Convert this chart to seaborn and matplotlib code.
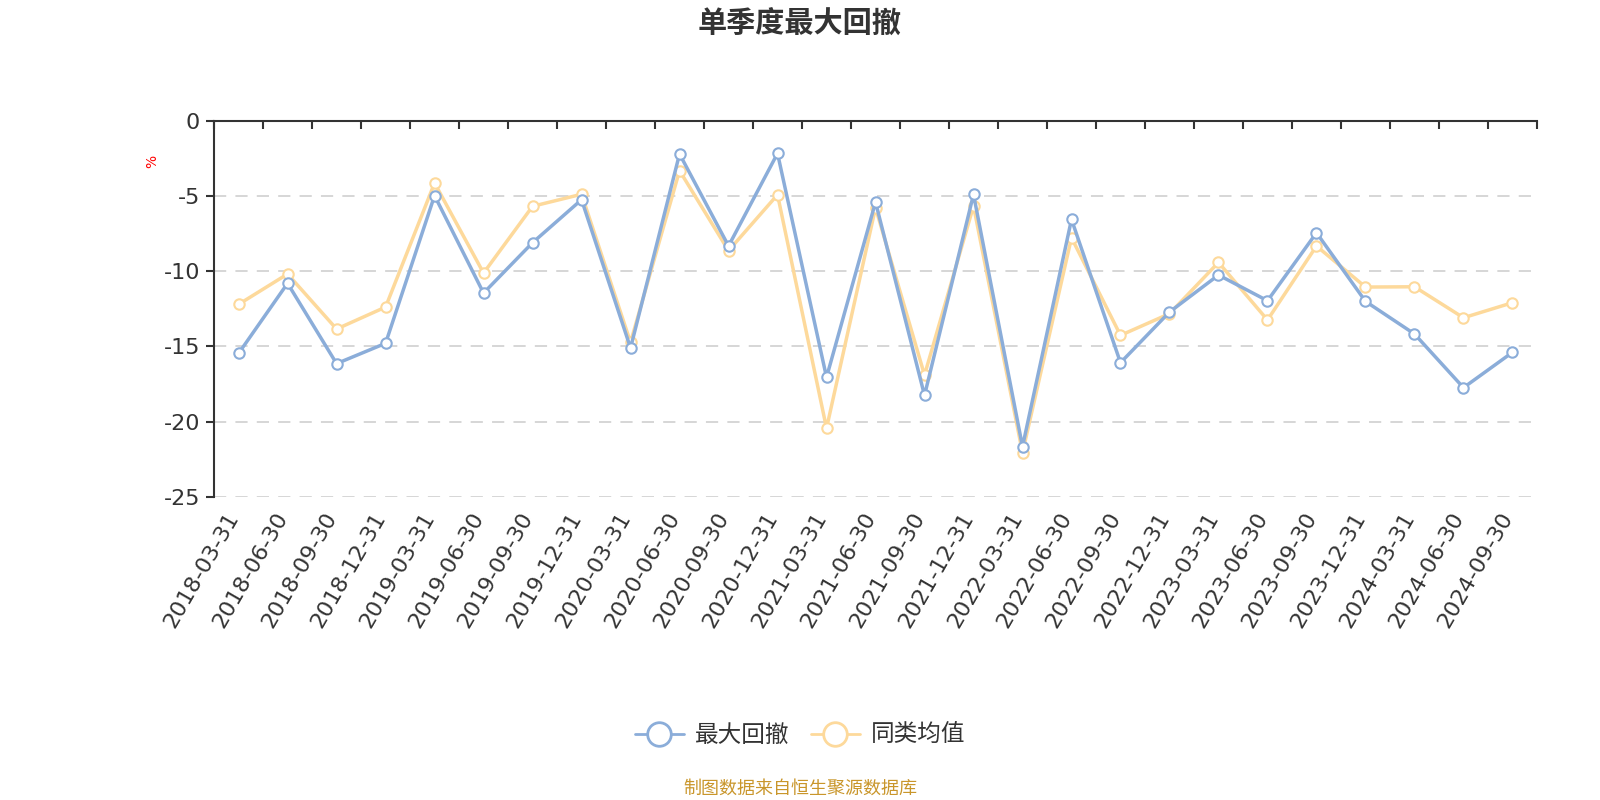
import numpy as np
import matplotlib
matplotlib.use('Agg')
from matplotlib import pyplot as plt
from matplotlib.lines import Line2D
from matplotlib.transforms import ScaledTranslation
import pandas as pd
import seaborn as sns

# quarterly max drawdown, fund vs peer average (%)
quarters = ["2018-03-31", "2018-06-30", "2018-09-30", "2018-12-31",
            "2019-03-31", "2019-06-30", "2019-09-30", "2019-12-31",
            "2020-03-31", "2020-06-30", "2020-09-30", "2020-12-31",
            "2021-03-31", "2021-06-30", "2021-09-30", "2021-12-31",
            "2022-03-31", "2022-06-30", "2022-09-30", "2022-12-31",
            "2023-03-31", "2023-06-30", "2023-09-30", "2023-12-31",
            "2024-03-31", "2024-06-30", "2024-09-30"]
max_drawdown = [-15.47, -10.81, -16.15, -14.80, -4.98, -11.46, -8.11, -5.25,
                -15.11, -2.21, -8.33, -2.17, -17.06, -5.41, -18.26, -4.90,
                -21.67, -6.56, -16.09, -12.72, -10.26, -11.97, -7.45, -12.01,
                -14.18, -17.75, -15.40]
peer_mean = [-12.21, -10.19, -13.85, -12.39, -4.14, -10.13, -5.69, -4.89,
             -14.74, -3.32, -8.64, -4.92, -20.45, -5.78, -16.91, -5.67,
             -22.07, -7.78, -14.27, -12.83, -9.42, -13.25, -8.33, -11.06,
             -11.04, -13.10, -12.10]
series_names = ["最大回撤", "同类均值"]
y_ticks = [0, -5, -10, -15, -20, -25]

blue = "#8badd9"
orange = "#fdd99b"
dark = "#333333"

sns.set_style("white")
plt.rcParams['font.family'] = ['DejaVu Sans', 'Noto Sans CJK SC']
plt.rcParams['axes.unicode_minus'] = False

df = pd.DataFrame({
    "quarter": quarters * 2,
    "value": max_drawdown + peer_mean,
    "series": [series_names[0]] * len(quarters) + [series_names[1]] * len(quarters),
})

fig = plt.figure(figsize=(16, 8), dpi=100)
ax = fig.add_axes([0.1338, 0.3791, 0.9606 - 0.1338, 0.8491 - 0.3791])

sns.lineplot(data=df, x="quarter", y="value", hue="series", sort=False,
             palette=[blue, orange], marker="o", markersize=7.5, linewidth=2.5,
             legend=False, ax=ax, zorder=3)
for line in ax.lines:
    line.set_markerfacecolor("white")
    line.set_markeredgecolor(line.get_color())
    line.set_markeredgewidth(1.5)
# blue drawn on top like the reference
ax.lines[0].set_zorder(4)

n = len(quarters)
ax.set_xlim(-0.5, n - 0.5)
ax.set_ylim(-25, 0)
ax.set_yticks(y_ticks)
ax.set_xlabel("")
ax.set_ylabel("")

ax.set_xticks(np.arange(n))
ax.set_xticks(np.arange(n + 1) - 0.5, minor=True)
ax.set_xticklabels(quarters, rotation=60, ha="right", va="center",
                   rotation_mode="anchor")
ax.tick_params(axis="x", which="major", bottom=False, top=False,
               labelbottom=True, labelsize=16, labelcolor=dark, pad=9)
ax.tick_params(axis="x", which="minor", bottom=False, top=True,
               direction="in", length=6, width=1.5, color=dark)
ax.tick_params(axis="y", which="major", left=True, direction="out",
               length=6, width=1.5, color=dark, labelsize=16,
               labelcolor=dark, pad=4)
shift = ScaledTranslation(-3.5 / 72, 0, fig.dpi_scale_trans)
for lab in ax.get_xticklabels():
    lab.set_transform(lab.get_transform() + shift)

for s in ["right", "bottom"]:
    ax.spines[s].set_visible(False)
for s in ["top", "left"]:
    ax.spines[s].set_color(dark)
    ax.spines[s].set_linewidth(1.5)
    ax.spines[s].set_zorder(5)

ax.yaxis.grid(True, linestyle=(0, (8, 6)), color="#cccccc", linewidth=1.1)
ax.xaxis.grid(False)
ax.set_axisbelow(True)

fig.text(0.5, 1 - 25 / 800, "单季度最大回撤", ha="center", va="center",
         fontsize=21, fontweight="bold", color=dark)
fig.text(0.095, 1 - 161 / 800, "%", ha="center", va="center", rotation=90,
         fontsize=10, color="red")
fig.text(0.5, 1 - 789 / 800, "制图数据来自恒生聚源数据库", ha="center",
         va="center", fontsize=13, color="#c9962b")

handles = [Line2D([], [], color=c, lw=2, marker="o", markersize=17,
                  markerfacecolor="white", markeredgewidth=2)
           for c in [blue, orange]]
fig.legend(handles, series_names, loc="center", bbox_to_anchor=(0.5, 0.081),
           ncol=2, frameon=False, fontsize=17, handlelength=2.1,
           handletextpad=0.45, columnspacing=0.9, labelcolor=dark)

plt.savefig("out.png", dpi=100)
plt.close()
